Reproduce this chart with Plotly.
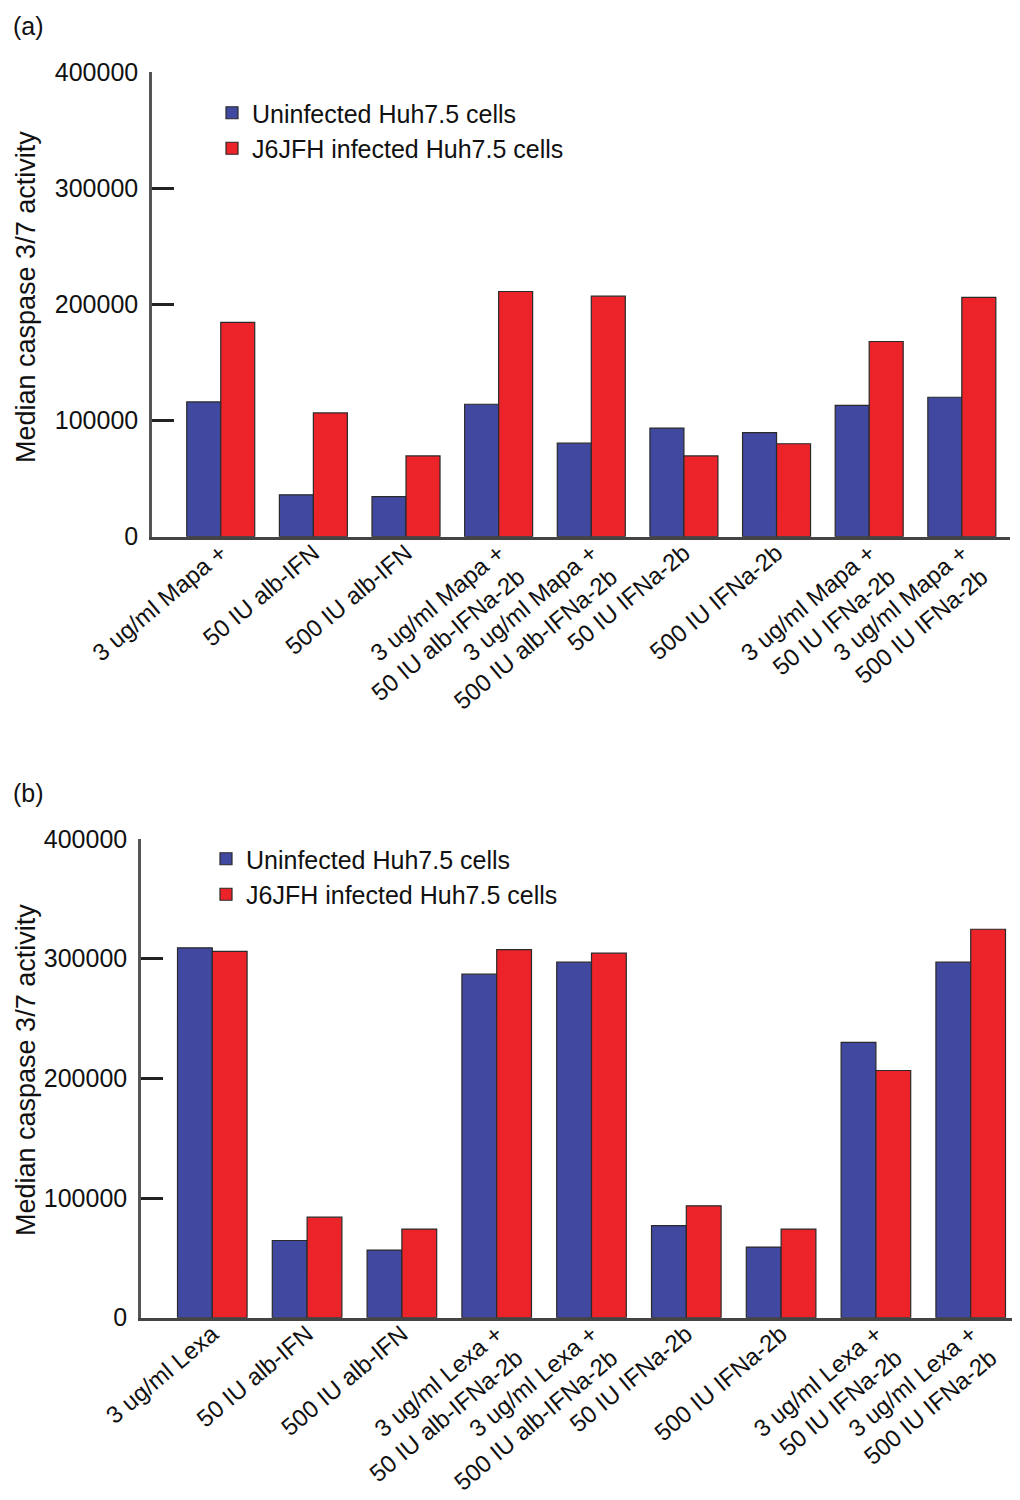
import plotly.graph_objects as go
from plotly.subplots import make_subplots

# ---- data ----
labels_a = ["3 ug/ml Mapa +", "50 IU alb-IFN", "500 IU alb-IFN",
            "3 ug/ml Mapa +<br>50 IU alb-IFNa-2b", "3 ug/ml Mapa +<br>500 IU alb-IFNa-2b",
            "50 IU IFNa-2b", "500 IU IFNa-2b",
            "3 ug/ml Mapa +<br>50 IU IFNa-2b", "3 ug/ml Mapa +<br>500 IU IFNa-2b"]
uninfected_a = [116000, 36000, 34500, 114000, 80500, 93500, 89500, 113000, 120000]
infected_a = [184500, 106500, 69500, 211000, 207000, 69500, 80000, 168000, 206000]

labels_b = ["3 ug/ml Lexa", "50 IU alb-IFN", "500 IU alb-IFN",
            "3 ug/ml Lexa +<br>50 IU alb-IFNa-2b", "3 ug/ml Lexa +<br>500 IU alb-IFNa-2b",
            "50 IU IFNa-2b", "500 IU IFNa-2b",
            "3 ug/ml Lexa +<br>50 IU IFNa-2b", "3 ug/ml Lexa +<br>500 IU IFNa-2b"]
uninfected_b = [309000, 64500, 56500, 287000, 297000, 77000, 59000, 230000, 297000]
infected_b = [306000, 84000, 74000, 307500, 304500, 93500, 74000, 206500, 324500]

series_names = ["Uninfected Huh7.5 cells", "J6JFH infected Huh7.5 cells"]
y_ticks = [0, 100000, 200000, 300000, 400000]

BLUE = "#4048a0"
RED = "#ec2328"
FONT = "Liberation Sans, Arial, sans-serif"
W, H = 1020, 1500
OFF = 8  # page body margin


def px(x):
    return (x - OFF) / W


def py(y):
    return 1 - (y - OFF) / H


fig = make_subplots(rows=2, cols=1)

panels = [(labels_a, uninfected_a, infected_a, "legend"),
          (labels_b, uninfected_b, infected_b, "legend2")]
for row, (labels, unin, inf, leg) in enumerate(panels, start=1):
    for name, vals, col in zip(series_names, [unin, inf], [BLUE, RED]):
        fig.add_trace(go.Bar(x=labels, y=vals, name=name, legend=leg,
                             legendgroup=name + leg,
                             marker=dict(color=col, line=dict(color="#2a2a2a", width=1.2))),
                      row=row, col=1)

axis_common = dict(showgrid=False, zeroline=False, automargin=False)
fig.update_xaxes(**axis_common, showline=True, linecolor="#444", linewidth=3,
                 ticks="", tickangle=-40, ticklabelstandoff=-10,
                 tickfont=dict(family=FONT, size=24, color="#111"))
fig.update_yaxes(**axis_common, showline=True, linecolor="#555", linewidth=2.5,
                 range=[0, 400000], tickvals=y_ticks, ticktext=[str(v) for v in y_ticks],
                 ticks="inside", ticklen=22, tickwidth=3, tickcolor="#222",
                 ticklabelstandoff=6,
                 tickfont=dict(family=FONT, size=25, color="#111"))

fig.update_layout(
    xaxis=dict(domain=[px(152), px(1010)], range=[-0.742, 8.52], anchor="y"),
    yaxis=dict(domain=[py(536.7), py(71.9)], anchor="x"),
    xaxis2=dict(domain=[px(141), px(1013)], range=[-0.752, 8.446], anchor="y2"),
    yaxis2=dict(domain=[py(1317.7), py(838.9)], anchor="x2"),
)

legend_style = dict(font=dict(family=FONT, size=25, color="#111"), bgcolor="rgba(0,0,0,0)",
                    traceorder="grouped", tracegroupgap=0, xanchor="left", yanchor="top")
fig.update_layout(
    width=W, height=H,
    margin=dict(l=0, r=0, t=0, b=0),
    paper_bgcolor="white", plot_bgcolor="white",
    barmode="group", bargap=0.266, bargroupgap=0,
    font=dict(family=FONT, color="#111"),
    legend=dict(x=px(212), y=py(90), **legend_style),
    legend2=dict(x=px(206), y=py(836), **legend_style),
    showlegend=True,
)

# panel letters and axis titles
for txt, ypx in [("(a)", 26), ("(b)", 793)]:
    fig.add_annotation(text=txt, x=px(11), y=py(ypx), xref="paper", yref="paper",
                       xanchor="left", yanchor="middle", showarrow=False,
                       font=dict(family=FONT, size=25, color="#111"))
for ypx in [297, 1070]:
    fig.add_annotation(text="Median caspase 3/7 activity", x=px(26), y=py(ypx),
                       xref="paper", yref="paper", xanchor="center", yanchor="middle",
                       textangle=-90, showarrow=False,
                       font=dict(family=FONT, size=27, color="#111"))

fig.write_html("out.html")
